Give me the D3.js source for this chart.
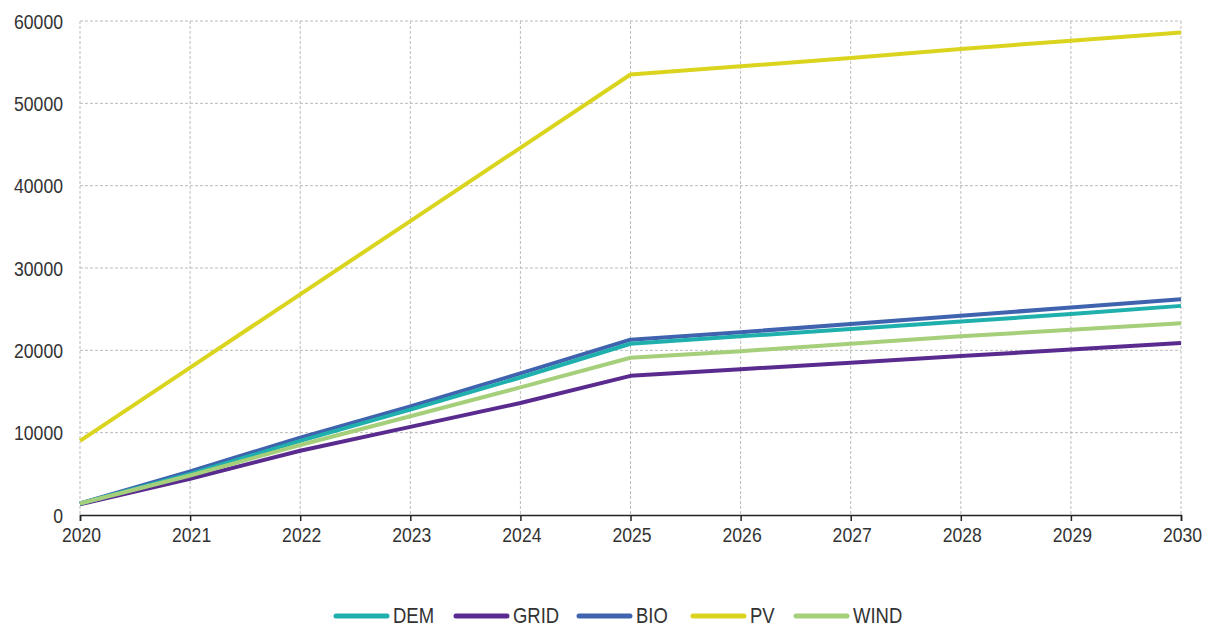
<!DOCTYPE html>
<html><head><meta charset="utf-8">
<script src="https://cdn.jsdelivr.net/npm/d3@7"></script>
<style>
body{margin:0;background:#fff;}
text{font-family:"Liberation Sans Narrow","Arial Narrow","Liberation Sans",sans-serif;fill:#333;}
</style></head>
<body><svg id="c" width="1208" height="626"></svg>
<script>
const years = [2020,2021,2022,2023,2024,2025,2026,2027,2028,2029,2030];
const DEM  = [1400,5000,9000,12800,16700,20800,21700,22600,23500,24400,25400];
const GRID = [1300,4400,7800,10700,13600,16900,17700,18500,19300,20100,20900];
const BIO  = [1400,5300,9400,13200,17200,21300,22200,23200,24200,25200,26200];
const PV   = [9000,17900,26800,35700,44600,53500,54500,55500,56600,57600,58600];
const WIND = [1400,4800,8500,12000,15500,19100,19900,20800,21700,22500,23300];
const yTicks = [0,10000,20000,30000,40000,50000,60000];
const seriesNames = ["DEM","GRID","BIO","PV","WIND"];
const colors = {DEM:"#1fb0ad",GRID:"#5a2b8e",BIO:"#3f63ae",PV:"#dbd41f",WIND:"#a5cf7b"};
const data = {DEM,GRID,BIO,PV,WIND};

const svg = d3.select("#c");
const x = d3.scaleLinear().domain([2020,2030]).range([80,1181]);
const y = d3.scaleLinear().domain([0,60000]).range([515,21]);
const SX = 0.84;

// grid
svg.append("g").selectAll("line").data(yTicks.filter(d=>d>0)).join("line")
  .attr("x1",80).attr("x2",1181).attr("y1",d=>y(d)).attr("y2",d=>y(d))
  .attr("stroke","#bbb").attr("stroke-width",1).attr("stroke-dasharray","3,2");
svg.append("g").selectAll("line").data(years).join("line")
  .attr("x1",d=>x(d)).attr("x2",d=>x(d)).attr("y1",y(60000)).attr("y2",y(0))
  .attr("stroke","#bbb").attr("stroke-width",1).attr("stroke-dasharray","3,2");

// y labels
svg.append("g").selectAll("text").data(yTicks).join("text")
  .attr("transform",d=>`translate(63,${y(d)+7.5}) scale(${SX},1)`)
  .attr("text-anchor","end").attr("font-size",21).text(d=>d);

// x axis
const xa = svg.append("g").attr("transform","translate(0,515)")
  .call(d3.axisBottom(x).tickValues(years).tickFormat(d3.format("d")).tickSize(6));
xa.select(".domain").attr("stroke","#222").attr("stroke-width",1.5);
xa.selectAll(".tick line").attr("stroke","#222").attr("stroke-width",1.5);
xa.selectAll(".tick text").attr("font-size",21).attr("fill","#333")
  .attr("y",0).attr("dy",0)
  .attr("transform",`translate(1,27) scale(${SX},1)`)
  .attr("font-family","Liberation Sans Narrow, Arial Narrow, Liberation Sans, sans-serif");

// lines
const line = d3.line().x((d,i)=>x(years[i])).y(d=>y(d));
["GRID","BIO","DEM","WIND","PV"].forEach(k=>{
  svg.append("path").datum(data[k]).attr("d",line)
    .attr("fill","none").attr("stroke",colors[k]).attr("stroke-width",4)
    .attr("stroke-linejoin","round");
});

// legend
const legX = [335,455,578,692,795];
const lg = svg.append("g");
seriesNames.forEach((k,i)=>{
  lg.append("line").attr("x1",legX[i]+1).attr("x2",legX[i]+52).attr("y1",616).attr("y2",616)
    .attr("stroke",colors[k]).attr("stroke-width",5).attr("stroke-linecap","round");
  lg.append("text").attr("transform",`translate(${legX[i]+58},623) scale(${SX},1)`)
    .attr("font-size",22).text(k);
});
</script></body></html>
